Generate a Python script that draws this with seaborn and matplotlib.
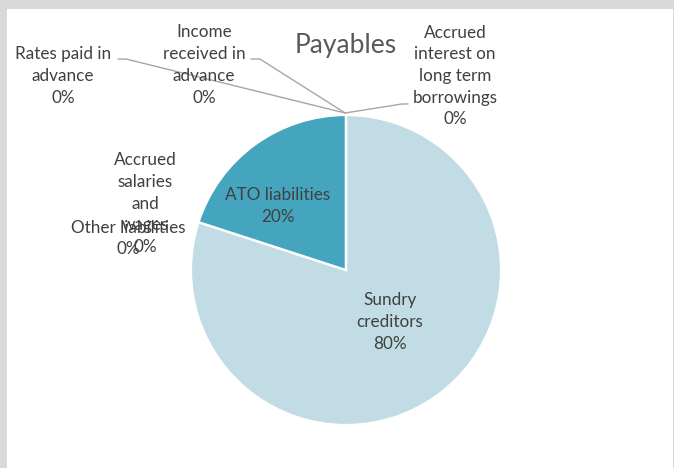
import matplotlib
matplotlib.use("Agg")
import matplotlib.pyplot as plt
import seaborn as sns
import numpy as np
from matplotlib.patches import Rectangle

sns.set_theme(style="white")
plt.rcParams['font.family'] = ['Lato', 'DejaVu Sans']

title = "Payables"
categories = ["Accrued\ninterest on\nlong term\nborrowings", "Sundry\ncreditors", "Other liabilities",
              "Accrued\nsalaries\nand\nwages", "ATO liabilities", "Rates paid in\nadvance",
              "Income\nreceived in\nadvance"]
values = [0, 80, 0, 0, 20, 0, 0]
colors = ["#9DC3D4", "#C1DCE4", "#7FB6C9", "#5FA9C1", "#45A5BE", "#2E8FA8", "#237C93"]

# label text positions (data units relative to pie of radius 1), and leader lines
label_pos = [(0.703, 1.252), (0.284, -0.335), (-1.406, 0.203), (-1.297, 0.429), (-0.439, 0.413),
             (-1.826, 1.252), (-0.916, 1.323)]
leaders = {0: [(-0.006, 1.013), (0.361, 1.071), (0.40, 1.071)],
           5: [(-1.471, 1.361), (-1.419, 1.361), (-0.006, 1.013)],
           6: [(-0.613, 1.361), (-0.555, 1.361), (-0.006, 1.013)]}

fig = plt.figure(figsize=(6.74, 4.68), dpi=100)
fig.patch.set_facecolor("#D9D9D9")
fig.add_artist(Rectangle((7 / 674, 0), 1 - 8 / 674, 1 - 9 / 468, transform=fig.transFigure,
                         facecolor="white", edgecolor="none", zorder=0))

ax = fig.add_axes([191 / 674, 43 / 468, 310 / 674, 310 / 468])
ax.set_facecolor("none")
wedges, _ = ax.pie(values, colors=colors, startangle=90, counterclock=False,
                   wedgeprops=dict(edgecolor="white", linewidth=1.6), radius=1.0)
ax.set_xlim(-1, 1)
ax.set_ylim(-1, 1)
ax.set_aspect("equal")
ax.axis("off")

txtc = "#404040"
for i, (cat, v) in enumerate(zip(categories, values)):
    x, y = label_pos[i]
    ax.text(x, y, f"{cat}\n{v}%", ha="center", va="center", fontsize=12.3, color=txtc,
            linespacing=1.44, clip_on=False, zorder=5)
for i, pts in leaders.items():
    xs, ys = zip(*pts)
    ax.plot(xs, ys, color="#A6A6A6", lw=1.0, clip_on=False, zorder=4)

fig.text(346 / 674, 1 - 45 / 468, title, ha="center", va="center", fontsize=19, color="#595959")

fig.savefig("out.png", dpi=100, facecolor=fig.get_facecolor())
